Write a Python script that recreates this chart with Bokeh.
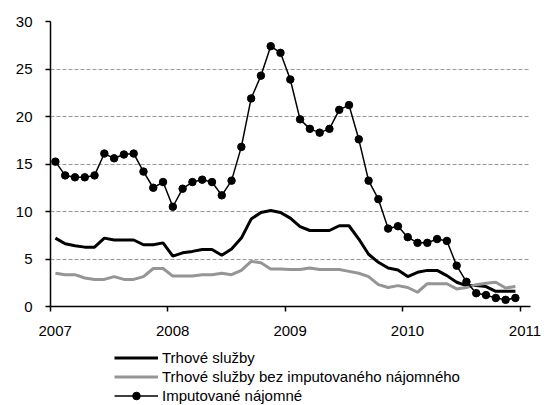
from bokeh.plotting import figure
from bokeh.models import Range1d, FixedTicker, LinearAxis, Legend, LegendItem
from bokeh.layouts import column
from bokeh.embed import file_html
from bokeh.resources import INLINE

# Monthly data, Jan 2007 - Dec 2010
trhove_sluzby = [7.2, 6.6, 6.4, 6.25, 6.25, 7.2, 7.0, 7.0, 7.0, 6.5, 6.5, 6.7,
                 5.3, 5.65, 5.8, 6.0, 6.0, 5.4, 6.05, 7.2, 9.2, 9.9, 10.1, 9.9,
                 9.3, 8.4, 8.0, 8.0, 8.0, 8.5, 8.5, 7.1, 5.5, 4.65, 4.05, 3.85,
                 3.15, 3.6, 3.8, 3.8, 3.25, 2.55, 2.2, 2.2, 2.1, 1.6, 1.6, 1.6]
bez_imputovaneho = [3.5, 3.35, 3.35, 3.0, 2.85, 2.85, 3.15, 2.85, 2.85, 3.15, 4.0, 4.0,
                    3.2, 3.2, 3.2, 3.35, 3.35, 3.5, 3.35, 3.8, 4.75, 4.6, 3.95, 3.95,
                    3.9, 3.9, 4.05, 3.9, 3.9, 3.9, 3.7, 3.5, 3.15, 2.3, 2.0, 2.2,
                    2.0, 1.5, 2.4, 2.4, 2.4, 1.85, 2.0, 2.3, 2.45, 2.55, 1.95, 2.1]
imputovane = [15.25, 13.8, 13.6, 13.6, 13.8, 16.1, 15.6, 16.0, 16.1, 14.2, 12.5, 13.1,
              10.5, 12.4, 13.1, 13.35, 13.1, 11.7, 13.25, 16.8, 21.9, 24.3, 27.4, 26.7,
              23.9, 19.7, 18.7, 18.3, 18.7, 20.7, 21.2, 17.6, 13.25, 11.3, 8.2, 8.45,
              7.3, 6.7, 6.7, 7.1, 6.9, 4.3, 2.6, 1.4, 1.2, 0.9, 0.7, 0.9]
year_ticks = [2007, 2008, 2009, 2010, 2011]
y_ticks = [0, 5, 10, 15, 20, 25, 30]
labels = ["Trhové služby", "Trhové služby bez imputovaného nájomného", "Imputované nájomné"]

x = [2007 + (i + 0.5) / 12 for i in range(len(imputovane))]

FONT = "Liberation Sans, Arial, sans-serif"
BLACK_W = 3
GRAY = "#959595"

p = figure(width=544, height=345, output_backend="svg", toolbar_location=None,
           x_range=Range1d(2007, 2011.087), y_range=Range1d(0, 30),
           min_border_left=50, min_border_right=14, min_border_top=21, min_border_bottom=39,
           x_axis_type=None)
p.outline_line_color = None
p.background_fill_color = "white"
p.border_fill_color = "white"

# bottom axis: line and ticks only
ax_ticks = LinearAxis(ticker=FixedTicker(ticks=year_ticks))
ax_ticks.major_label_text_font_size = "0px"
ax_ticks.major_label_text_alpha = 0
ax_ticks.major_label_standoff = 0
ax_ticks.major_tick_in = 0
ax_ticks.major_tick_out = 5
ax_ticks.minor_tick_line_color = None
ax_ticks.axis_line_color = "black"
ax_ticks.axis_line_width = 1.5
ax_ticks.major_tick_line_width = 1.5
p.add_layout(ax_ticks, "below")

# label axis (labels sit slightly right of the ticks, as in the reference)
label_pos = [y + 0.04 for y in year_ticks]
ax_lab = LinearAxis(ticker=FixedTicker(ticks=label_pos),
                    major_label_overrides={lp: str(y) for lp, y in zip(label_pos, year_ticks)})
ax_lab.axis_line_color = None
ax_lab.major_tick_line_color = None
ax_lab.minor_tick_line_color = None
ax_lab.major_tick_out = 0
ax_lab.major_label_text_font = FONT
ax_lab.major_label_text_font_size = "15px"
ax_lab.major_label_text_color = "black"
ax_lab.major_label_standoff = 14
p.add_layout(ax_lab, "below")

yax = p.yaxis[0]
yax.ticker = FixedTicker(ticks=y_ticks)
yax.axis_line_color = "black"
yax.axis_line_width = 1.5
yax.major_tick_in = 0
yax.major_tick_out = 5
yax.major_tick_line_width = 1.5
yax.minor_tick_line_color = None
yax.major_label_text_font = FONT
yax.major_label_text_font_size = "15px"
yax.major_label_text_color = "black"
yax.major_label_standoff = 13

p.xgrid.grid_line_color = None
p.ygrid.ticker = FixedTicker(ticks=y_ticks[1:])
p.ygrid.grid_line_color = "#9a9a9a"
p.ygrid.grid_line_dash = "4 2"
p.ygrid.grid_line_width = 1

p.line(x, trhove_sluzby, line_color="black", line_width=BLACK_W)
p.line(x, bez_imputovaneho, line_color=GRAY, line_width=3)
p.line(x, imputovane, line_color="black", line_width=1.5)
p.scatter(x, imputovane, size=7.5, fill_color="black", line_color="black")

# legend strip below the chart (its frame is aligned with the chart's frame);
# the same series are attached but lie outside this strip's ranges
pl = figure(width=544, height=60, output_backend="svg", toolbar_location=None,
            x_range=Range1d(0, 1), y_range=Range1d(0, 1),
            min_border=0, x_axis_type=None, y_axis_type=None)
pl.outline_line_color = None
pl.xgrid.grid_line_color = None
pl.ygrid.grid_line_color = None
l1 = pl.line(x, trhove_sluzby, line_color="black", line_width=BLACK_W)
l2 = pl.line(x, bez_imputovaneho, line_color=GRAY, line_width=3)
l3 = pl.line(x, imputovane, line_color="black", line_width=1.5)
l3c = pl.scatter(x, imputovane, size=7.5, fill_color="black", line_color="black")

legend = Legend(items=[LegendItem(label=labels[0], renderers=[l1]),
                       LegendItem(label=labels[1], renderers=[l2]),
                       LegendItem(label=labels[2], renderers=[l3, l3c])],
                location=(64, 0), orientation="vertical")
legend.background_fill_alpha = 0
legend.border_line_color = None
legend.padding = 0
legend.margin = 0
legend.spacing = 0
legend.glyph_width = 44
legend.glyph_height = 19
legend.label_height = 19
legend.label_standoff = 4
legend.label_text_font = FONT
legend.label_text_font_size = "15px"
legend.label_text_color = "black"
pl.add_layout(legend, "center")

layout = column(p, pl, spacing=0)
open("out.html", "w").write(file_html(layout, INLINE))
